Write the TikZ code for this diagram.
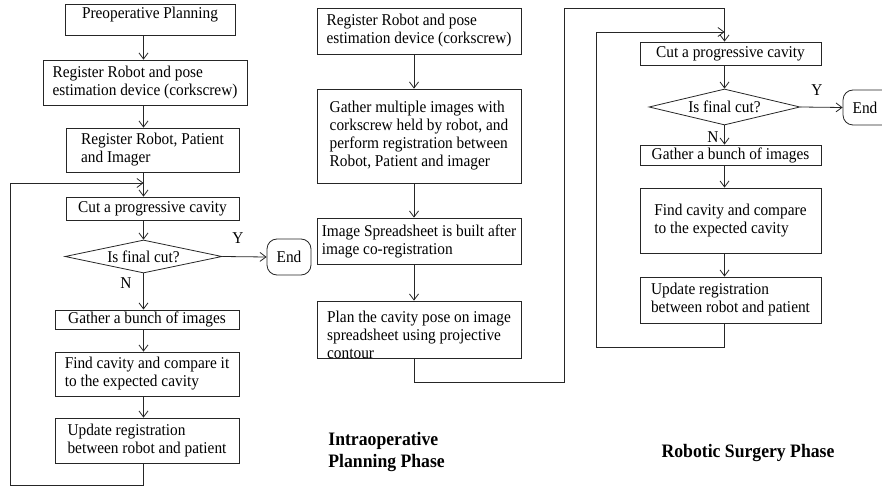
\documentclass[tikz,border=0pt]{standalone}
\usepackage{fontspec}
\setmainfont{Liberation Serif}[FakeStretch=0.93]
\usepackage{tikz}
\usetikzlibrary{shapes.geometric, arrows.meta, calc, positioning}

\newcommand{\boxfont}{\fontsize{16.5}{18}\selectfont}
\newcommand{\phasefont}{\fontsize{19}{22}\selectfont\bfseries}

\begin{document}
\begin{tikzpicture}[
    x=1pt, y=-1pt,
    line width=0.8pt,
    >={Straight Barb[length=6pt,width=9pt]},
    proc/.style={rectangle, draw=black!85, align=left, inner xsep=2pt, inner ysep=2pt, font=\boxfont},
    decision/.style={diamond, draw=black!85, inner sep=0pt, font=\boxfont},
    term/.style={rectangle, draw=black!85, rounded corners=10pt, inner sep=1pt, font=\boxfont},
    yn/.style={font=\boxfont, inner sep=0pt},
    phase/.style={align=left, font=\phasefont, inner sep=0pt},
    line/.style={draw=black!85}
]
\useasboundingbox (0,0) rectangle (882,486);

% Preoperative column
\node[proc, minimum width=170pt, minimum height=31pt, text depth=14pt] (pre_plan) at (150,19.5) {Preoperative Planning};
\node[proc, minimum width=204pt, minimum height=45pt] (reg_dev) at (145,82.5) {Register Robot and pose\\estimation device (corkscrew)};
\node[proc, minimum width=173pt, minimum height=44pt] (reg_pat) at (152.5,150) {Register Robot, Patient\\and Imager};
\node[proc, minimum width=173pt, minimum height=23pt] (cut_l) at (152.5,208.5) {Cut a progressive cavity};
\node[decision, minimum width=157pt, minimum height=33pt, aspect=4.7] (final_l) at (143.5,256.5) {Is final cut?};
\node[term, minimum width=44pt, minimum height=36pt] (end_l) at (289,257) {End};
\node[proc, minimum width=184pt, minimum height=19pt] (gather_l) at (147,319.5) {Gather a bunch of images};
\node[proc, minimum width=184pt, minimum height=44pt] (find_l) at (147,374) {Find cavity and compare it\\to the expected cavity};
\node[proc, minimum width=184pt, minimum height=45pt] (update_l) at (147,440.5) {Update registration\\between robot and patient};
\node[yn] (yes_l) at (238,238) {Y};
\node[yn] (no_l) at (126,283) {N};

\coordinate (loop_lb) at (10,485);
\coordinate (loop_lt) at (10,183);

\draw[->, line] (pre_plan.south -| final_l) -- (reg_dev.north -| final_l);
\draw[->, line] (reg_dev.south -| final_l) -- (reg_pat.north -| final_l);
\draw[->, line] (reg_pat.south -| final_l) -- (cut_l.north -| final_l);
\draw[->, line] (cut_l.south -| final_l) -- (final_l.north);
\draw[->, line] (final_l.east) -- (end_l.west);
\draw[->, line] (final_l.south) -- (gather_l.north -| final_l);
\draw[->, line] (gather_l.south -| final_l) -- (find_l.north -| final_l);
\draw[->, line] (find_l.south -| final_l) -- (update_l.north -| final_l);
\draw[->, line] (update_l.south -| final_l) |- (loop_lb) -- (loop_lt) -- (loop_lt -| final_l);

% Intraoperative planning column
\coordinate (mid_x) at (414,0);
\node[proc, minimum width=204pt, minimum height=46pt] (reg_dev_m) at (419,31) {Register Robot and pose\\estimation device (corkscrew)};
\node[proc, minimum width=204pt, minimum height=94pt] (gather_m) at (419,136) {Gather multiple images with\\corkscrew held by robot, and\\perform registration between\\Robot, Patient and imager};
\node[proc, minimum width=204pt, minimum height=46pt] (sheet_m) at (419,241) {Image Spreadsheet is built after\\image co-registration};
\node[proc, minimum width=204pt, minimum height=57pt, inner ysep=0pt, text height=57pt, text depth=-2pt] (plan_m) at (419,329.5) {Plan the cavity pose on image\\spreadsheet using projective\\contour};
\node[phase, anchor=north west] (phase_m) at (328,432) {Intraoperative\\Planning Phase};

\draw[->, line] (reg_dev_m.south -| mid_x) -- (gather_m.north -| mid_x);
\draw[->, line] (gather_m.south -| mid_x) -- (sheet_m.north -| mid_x);
\draw[->, line] (sheet_m.south -| mid_x) -- (plan_m.north -| mid_x);

% Robotic surgery column
\node[proc, minimum width=181pt, minimum height=23pt] (cut_r) at (730.5,53.5) {Cut a progressive cavity};
\node[decision, minimum width=151pt, minimum height=36pt, aspect=4.2] (final_r) at (724.5,107) {Is final cut?};
\node[term, minimum width=50pt, minimum height=35pt] (end_r) at (868,107.5) {End\hspace*{6pt}};
\node[proc, minimum width=181pt, minimum height=20pt] (gather_r) at (730.5,155) {Gather a bunch of images};
\node[proc, minimum width=181pt, minimum height=65pt] (find_r) at (730.5,220.5) {Find cavity and compare\\to the expected cavity};
\node[proc, minimum width=181pt, minimum height=46pt] (update_r) at (730.5,300) {Update registration\\between robot and patient};
\node[yn] (yes_r) at (817,90) {Y};
\node[yn] (no_r) at (713,137) {N};
\node[phase] (phase_r) at (748,453) {Robotic Surgery Phase};

\coordinate (link_b) at (564,382);
\coordinate (link_t) at (564,8);
\coordinate (loop_rb) at (596,347);
\coordinate (loop_rt) at (596,32);

\draw[->, line] (plan_m.south -| mid_x) |- (link_b) -- (link_t) -| (cut_r.north -| final_r);
\draw[->, line] (cut_r.south -| final_r) -- (final_r.north);
\draw[->, line] (final_r.east) -- (end_r.west);
\draw[->, line] (final_r.south) -- (gather_r.north -| final_r);
\draw[->, line] (gather_r.south -| final_r) -- (find_r.north -| final_r);
\draw[->, line] (find_r.south -| final_r) -- (update_r.north -| final_r);
\draw[->, line] (update_r.south -| final_r) |- (loop_rb) -- (loop_rt) -- (loop_rt -| final_r);

\end{tikzpicture}
\end{document}
